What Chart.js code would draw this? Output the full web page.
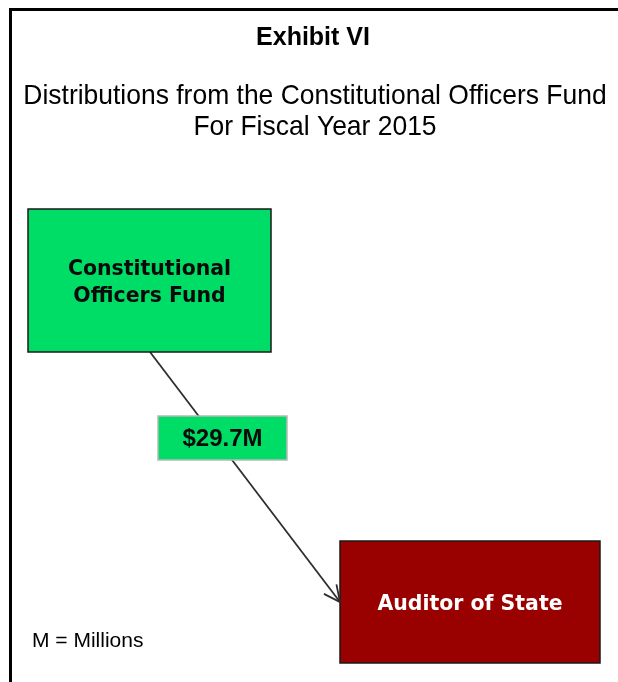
<!DOCTYPE html>
<html>
<head>
<meta charset="utf-8">
<script src="https://cdn.jsdelivr.net/npm/chart.js@4/dist/chart.umd.min.js"></script>
<style>
  html, body { margin: 0; padding: 0; background: #fff; }
  #wrap { width: 618px; height: 682px; }
</style>
</head>
<body>
<div id="wrap"><canvas id="flow-chart"></canvas></div>
<script>
'use strict';

// data
const exhibit_title = 'Exhibit VI';
const subtitle_lines = ['Distributions from the Constitutional Officers Fund', 'For Fiscal Year 2015'];
const node_names = [['Constitutional', 'Officers Fund'], ['Auditor of State']];
const flow_from = [0];
const flow_to = [1];
const flow_amounts = [29.7];
const footnote = 'M = Millions';

// layout (diagram coordinates, same units as the hidden axes)
const node_boxes = [
    { x0: 28, y0: 209, x1: 271, y1: 352, fill: '#00dd66', text: '#0a0a0a', anchor_out: [150, 352] },
    { x0: 340, y0: 541, x1: 600, y1: 663, fill: '#990000', text: '#ffffff', anchor_in: [340, 602] }
];
const flow_label_boxes = [{ x0: 158, y0: 416, x1: 287, y1: 460 }];

const ARIAL = '"Liberation Sans", Arial, sans-serif';

function fmt_money(v) {
    return `$${v.toFixed(1)}M`;
}

const flow_lines = flow_from.map((from, i) => {
    return {
        data: [
            { x: node_boxes[from].anchor_out[0], y: node_boxes[from].anchor_out[1] },
            { x: node_boxes[flow_to[i]].anchor_in[0], y: node_boxes[flow_to[i]].anchor_in[1] }
        ],
        showLine: true,
        borderColor: '#2e2e2e',
        borderWidth: 1.8,
        pointRadius: 0,
        pointHitRadius: 0
    };
});

// text squeezed a little sideways, like the original export
function squeezed_text(ctx, text, x, y, sqx) {
    ctx.save();
    ctx.translate(x, y);
    ctx.scale(sqx, 1);
    ctx.fillText(text, 0, 0);
    ctx.restore();
}

const diagram_plugin = {
    id: 'diagram',
    beforeDatasetsDraw(chart) {
        const ctx = chart.ctx;
        const sx = chart.scales.x, sy = chart.scales.y;
        ctx.save();
        // frame
        ctx.fillStyle = '#000';
        ctx.fillRect(sx.getPixelForValue(9), sy.getPixelForValue(8), 3, chart.height);
        ctx.fillRect(sx.getPixelForValue(9), sy.getPixelForValue(8), chart.width, 3);

        // titles
        ctx.textAlign = 'center';
        ctx.textBaseline = 'middle';
        ctx.font = `bold 25px ${ARIAL}`;
        ctx.fillText(exhibit_title, sx.getPixelForValue(313), sy.getPixelForValue(38));
        ctx.font = `28px ${ARIAL}`;
        subtitle_lines.forEach((line, i) => {
            squeezed_text(ctx, line, sx.getPixelForValue(315), sy.getPixelForValue(96 + i * 31), 0.945);
        });

        // footnote
        ctx.textAlign = 'left';
        ctx.font = `21px ${ARIAL}`;
        ctx.fillText(footnote, sx.getPixelForValue(32), sy.getPixelForValue(641));
        ctx.restore();
    },
    afterDatasetsDraw(chart) {
        const ctx = chart.ctx;
        const sx = chart.scales.x, sy = chart.scales.y;
        ctx.save();

        // nodes
        node_boxes.forEach((b, i) => {
            const x0 = sx.getPixelForValue(b.x0), y0 = sy.getPixelForValue(b.y0);
            const x1 = sx.getPixelForValue(b.x1), y1 = sy.getPixelForValue(b.y1);
            ctx.fillStyle = b.fill;
            ctx.fillRect(x0, y0, x1 - x0, y1 - y0);
            ctx.strokeStyle = '#1a1a1a';
            ctx.lineWidth = 1.5;
            ctx.strokeRect(x0, y0, x1 - x0, y1 - y0);
            ctx.fillStyle = b.text;
            ctx.font = 'bold 22px "DejaVu Sans", Verdana, sans-serif';
            ctx.textAlign = 'center';
            ctx.textBaseline = 'middle';
            const lines = node_names[i];
            const cx = (x0 + x1) / 2, cy = (y0 + y1) / 2 + 2;
            lines.forEach((line, j) => {
                squeezed_text(ctx, line, cx, cy + (j - (lines.length - 1) / 2) * 27, 0.93);
            });
        });

        // arrowheads
        chart.data.datasets.forEach((ds, i) => {
            const p0 = ds.data[0], p1 = ds.data[ds.data.length - 1];
            const ax = sx.getPixelForValue(p0.x), ay = sy.getPixelForValue(p0.y);
            const bx = sx.getPixelForValue(p1.x), by = sy.getPixelForValue(p1.y);
            const ang = Math.atan2(by - ay, bx - ax);
            const len = 18, spread = 0.45;
            ctx.strokeStyle = '#2e2e2e';
            ctx.lineWidth = 1.8;
            ctx.beginPath();
            ctx.moveTo(bx - len * Math.cos(ang - spread), by - len * Math.sin(ang - spread));
            ctx.lineTo(bx, by);
            ctx.lineTo(bx - len * Math.cos(ang + spread), by - len * Math.sin(ang + spread));
            ctx.stroke();
        });

        // flow labels
        flow_amounts.forEach((v, i) => {
            const b = flow_label_boxes[i];
            const x0 = sx.getPixelForValue(b.x0), y0 = sy.getPixelForValue(b.y0);
            const x1 = sx.getPixelForValue(b.x1), y1 = sy.getPixelForValue(b.y1);
            ctx.fillStyle = '#00dd66';
            ctx.fillRect(x0, y0, x1 - x0, y1 - y0);
            ctx.strokeStyle = '#b8b8b8';
            ctx.lineWidth = 1.5;
            ctx.strokeRect(x0, y0, x1 - x0, y1 - y0);
            ctx.fillStyle = '#0a0a0a';
            ctx.font = `bold 24px ${ARIAL}`;
            ctx.textAlign = 'center';
            ctx.textBaseline = 'middle';
            ctx.fillText(fmt_money(v), (x0 + x1) / 2, (y0 + y1) / 2 + 1);
        });
        ctx.restore();
    }
};

new Chart(document.getElementById('flow-chart'), {
    type: 'scatter',
    data: { datasets: flow_lines },
    plugins: [diagram_plugin],
    options: {
        responsive: true,
        maintainAspectRatio: false,
        animation: false,
        layout: { padding: 0 },
        plugins: {
            legend: { display: false },
            tooltip: { enabled: false },
            title: { display: false }
        },
        scales: {
            x: { type: 'linear', min: 0, max: 618, display: false },
            y: { type: 'linear', min: 0, max: 682, reverse: true, display: false }
        }
    }
});
</script>
</body>
</html>
